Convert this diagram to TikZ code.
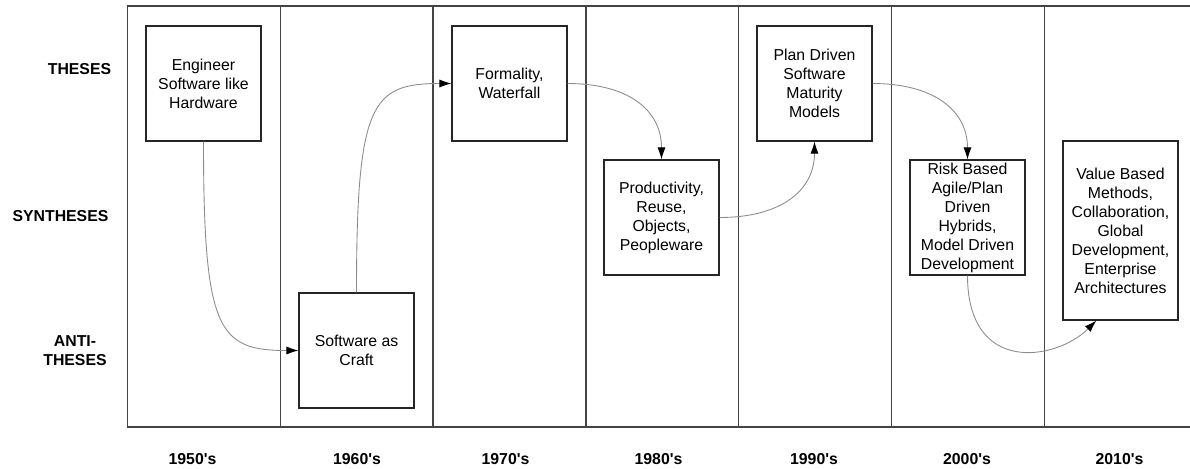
\documentclass[tikz,border=0pt]{standalone}
\usepackage{fontspec}
\setmainfont{Liberation Sans}
\usepackage{xcolor}
\usetikzlibrary{arrows.meta}
\definecolor{framegray}{HTML}{444444}
\definecolor{linkgray}{HTML}{8C8C8C}

\begin{document}
\begin{tikzpicture}[x=0.02cm, y=-0.02cm,
  erabox/.style={font=\fontsize{9}{10.8}\selectfont, draw=black!85, line width=0.6pt, minimum width=2.3cm, minimum height=2.3cm, inner sep=0pt, align=center},
  rowlabel/.style={font=\fontsize{9}{10.8}\selectfont\bfseries, align=center},
  link/.style={draw=linkgray, line width=0.5pt, -{Latex[length=2.4mm, width=1.6mm, black]}}]
\useasboundingbox (0,0) rectangle (1190,468);
%frame and decade columns
\draw[framegray, line width=0.7pt] (1190,6) -- (127.5,6) -- (127.5,427) -- (1190,427);
\foreach \x in {280.3,433.1,585.9,738.7,891.5,1044.3}
  \draw[framegray, line width=0.7pt] (\x,6) -- (\x,427);
%row labels
\node[rowlabel] (theses) at (79.5,69) {THESES};
\node[rowlabel] (syntheses) at (60.5,216.5) {SYNTHESES};
\node[rowlabel] (antitheses) at (75,350.5) {ANTI-\\THESES};
\foreach \x/\yr in {192.5/1950, 357/1960, 505.5/1970, 658.5/1980, 814/1990, 967/2000, 1119.5/2010}
  \node[rowlabel] (d\yr) at (\x,459.5) {\yr\textquotesingle s};
%eras
\node[erabox] (eng) at (203.5,83.5) {Engineer\\Software like\\Hardware};
\node[erabox] (craft) at (356.5,350.5) {Software as\\Craft};
\node[erabox] (form) at (509.5,83.5) {Formality,\\Waterfall};
\node[erabox] (prod) at (661.5,217.5) {Productivity,\\Reuse,\\Objects,\\Peopleware};
\node[erabox] (plan) at (814.5,83.5) {Plan Driven\\Software\\Maturity\\Models};
\node[erabox] (risk) at (967.5,217.5) {Risk Based\\Agile/Plan\\Driven\\Hybrids,\\Model Driven\\Development};
\node[erabox, minimum height=3.58cm] (value) at (1120.5,230.5) {Value Based\\Methods,\\Collaboration,\\Global\\Development,\\Enterprise\\Architectures};
\draw[link] (eng.south) .. controls +(0,190) and +(-80,0) .. (craft.west);
\draw[link] (craft.north) .. controls +(0,-190) and +(-80,0) .. (form.west);
\draw[link] (form.east) .. controls +(60,0) and +(0,-50) .. (prod.north);
\draw[link] (prod.east) .. controls +(60,0) and +(0,50) .. (plan.south);
\draw[link] (plan.east) .. controls +(60,0) and +(0,-50) .. (risk.north);
\draw[link] (risk.south) .. controls +(0,100) and +(-40,40) .. (value.255);
\end{tikzpicture}
\end{document}
